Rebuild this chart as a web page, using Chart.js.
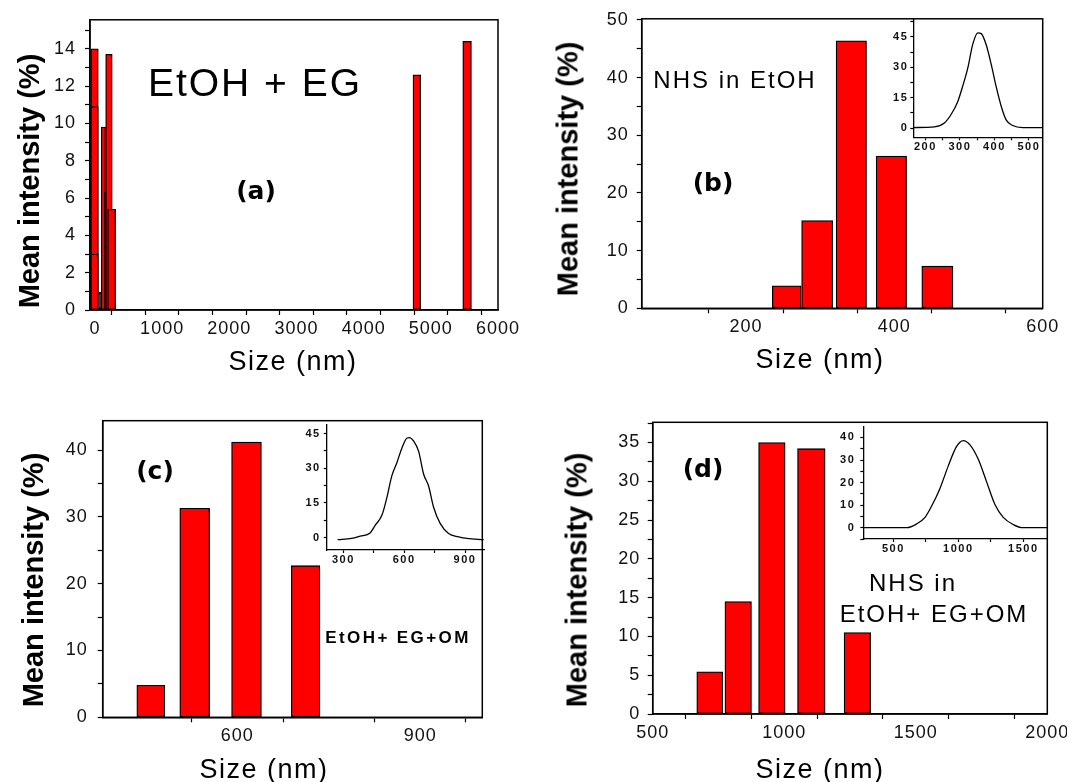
<!DOCTYPE html>
<html>
<head>
<meta charset="utf-8">
<script src="https://cdn.jsdelivr.net/npm/chart.js@4.4.0/dist/chart.umd.min.js"></script>
<style>
  html, body { margin: 0; padding: 0; overflow: hidden; background: #fff; }
  #fig { position: relative; width: 1067px; height: 782px; overflow: hidden; }
  canvas { position: absolute; }
  .t { position: absolute; white-space: nowrap; line-height: 1; transform: translate(-50%, -50%);
       font-family: 'Liberation Sans', Arial, sans-serif; color: #000; }
  .yt { font-weight: bold; font-size: 29px; transform: translate(-50%, -50%) rotate(-90deg); }
  .xt { font-size: 27px; letter-spacing: 1.5px; }
  .pl { font-family: 'DejaVu Sans', sans-serif; font-weight: bold; font-size: 25px; }
  .note { font-size: 24px; letter-spacing: 2px; }
</style>
</head>
<body>
<div id="fig">
  <canvas id="chartA" width="530" height="390" style="left:0;top:0"></canvas>
  <canvas id="chartB" width="537" height="390" style="left:530px;top:0"></canvas>
  <canvas id="chartC" width="530" height="392" style="left:0;top:390px"></canvas>
  <canvas id="chartD" width="560" height="392" style="left:530px;top:390px"></canvas>
  <canvas id="insetB" width="185" height="150" style="left:863px;top:10px"></canvas>
  <canvas id="insetC" width="210" height="155" style="left:280px;top:415px"></canvas>
  <canvas id="insetD" width="240" height="145" style="left:815px;top:415px"></canvas>

  <!-- titres d'axes -->
  <div class="t yt" style="left:29px;top:181px">Mean intensity (%)</div>
  <div class="t yt" style="left:568px;top:169px">Mean intensity (%)</div>
  <div class="t yt" style="left:33px;top:580px">Mean intensity (%)</div>
  <div class="t yt" style="left:577px;top:580px">Mean intensity (%)</div>
  <div class="t xt" style="left:293px;top:361px">Size (nm)</div>
  <div class="t xt" style="left:820px;top:359px">Size (nm)</div>
  <div class="t xt" style="left:264px;top:769px">Size (nm)</div>
  <div class="t xt" style="left:820px;top:769px">Size (nm)</div>

  <!-- annotations -->
  <div class="t" style="left:255px;top:82px;font-size:39px;letter-spacing:2px">EtOH + EG</div>
  <div class="t pl" style="left:256px;top:190px">(a)</div>
  <div class="t note" style="left:735px;top:80px">NHS in EtOH</div>
  <div class="t pl" style="left:713px;top:182px">(b)</div>
  <div class="t pl" style="left:155px;top:470px">(c)</div>
  <div class="t" style="left:398px;top:637px;font-size:17px;font-weight:bold;letter-spacing:2.4px">EtOH+ EG+OM</div>
  <div class="t pl" style="left:703px;top:468px">(d)</div>
  <div class="t note" style="left:913px;top:583px">NHS in</div>
  <div class="t note" style="left:934px;top:614px">EtOH+ EG+OM</div>
</div>

<script>
// (a) EtOH + EG : barres larges (rouges) et barres fines (noires)
const sizesA = [-7, -7, -7, 126, 208, 248, 4792, 5540];
const intensA = [14.0, 10.9, 3.0, 9.8, 13.7, 5.4, 12.6, 14.4];
const binsA = [113, 113, 113, 65, 98, 119, 115, 129];
const sizesAThin = [74, 149];
const intensAThin = [0.96, 6.3];
const binsAThin = [30, 21];
const xLabelsA = [0, 1000, 2000, 3000, 4000, 5000, 6000];
const yLabelsA = [0, 2, 4, 6, 8, 10, 12, 14];

// (b) NHS in EtOH
const sizesB = [255, 296, 342, 396, 458];
const intensB = [3.9, 15.2, 46.4, 26.4, 7.3];
const binsB = [39, 42, 41, 41, 42];
const xLabelsB = [200, 400, 600];
const yLabelsB = [0, 10, 20, 30, 40, 50];
const curveSizesB = [165, 226, 255, 274, 294, 308, 323, 337, 352, 362, 376, 391, 405, 420, 434, 453, 482, 539];
const curveIntensB = [0.3, 0.6, 2.5, 6.6, 13.2, 20.6, 29.7, 41.2, 47.0, 46.6, 41.2, 31.3, 20.6, 10.7, 4.1, 1.3, 0.3, 0.3];
const insetXLabelsB = [200, 300, 400, 500];
const insetYLabelsB = [0, 15, 30, 45];

// (c) EtOH + EG + OM
const sizesC = [458, 530, 615, 712];
const intensC = [4.8, 31.3, 41.2, 22.7];
const binsC = [46, 49, 49, 47];
const xLabelsC = [600, 900];
const yLabelsC = [0, 10, 20, 30, 40];
const curveSizesC = [272, 341, 383, 432, 457, 490, 515, 539, 564, 589, 614, 625, 647, 671, 696, 720, 745, 778, 819, 869, 910, 992];
const curveIntensC = [-0.9, -0.4, 0.6, 2.0, 5.3, 9.6, 17.4, 26.7, 32.4, 38.8, 43.1, 43.3, 41.7, 37.4, 27.4, 22.4, 13.1, 6.0, 1.7, 0.3, -0.4, -0.9];
const insetXLabelsC = [300, 600, 900];
const insetYLabelsC = [0, 15, 30, 45];

// (d) NHS in EtOH + EG + OM
const sizesD = [717, 825, 953, 1103, 1278];
const intensD = [5.45, 14.5, 35.0, 34.2, 10.5];
const binsD = [99, 101, 101, 105, 101];
const xLabelsD = [500, 1000, 1500, 2000];
const yLabelsD = [0, 5, 10, 15, 20, 25, 30, 35];
const curveSizesD = [270, 603, 680, 744, 795, 859, 923, 987, 1038, 1090, 1154, 1218, 1282, 1346, 1423, 1500, 1685];
const curveIntensD = [0, 0, 1.7, 4.6, 9.6, 17.4, 27.4, 36.0, 38.6, 36.7, 30.3, 20.3, 10.3, 4.6, 1.4, 0, 0];
const insetXLabelsD = [500, 1000, 1500];
const insetYLabelsD = [0, 10, 20, 30, 40];

const FONT = "'Liberation Sans', Arial, sans-serif";
const mainFont = {family: FONT, size: 18};
const insetFont = {family: FONT, size: 11, weight: 'bold'};

// cadre + espacement des lettres des graduations
const framePlugin = {
  id: 'frame',
  beforeDraw(chart, args, opts) {
    chart.ctx.letterSpacing = opts.spacing || '0px';
  },
  afterDraw(chart, args, opts) {
    if (!opts.box) return;
    const {ctx, chartArea: a} = chart;
    ctx.save();
    ctx.strokeStyle = '#000';
    ctx.lineWidth = 1.5;
    ctx.strokeRect(a.left, a.top, a.right - a.left, a.bottom - a.top);
    ctx.restore();
  }
};

// graduations mineures tous les `step`, étiquettes seulement sur `labels`
function stepTicks(min, max, step) {
  const out = [];
  for (let k = Math.ceil(min / step - 1e-9); k * step <= max + 1e-9; k++) out.push(+(k * step).toFixed(6));
  return out;
}

function axis(o) {
  const values = stepTicks(o.min, o.max, o.step);
  return {
    type: 'linear', min: o.min, max: o.max, offset: false,
    grid: {drawOnChartArea: false, tickLength: o.tick, tickColor: '#000', tickWidth: 1.2},
    border: {color: '#000', width: o.line},
    ticks: {
      autoSkip: false, maxRotation: 0,
      padding: o.pad, color: '#111', font: o.font,
      callback: v => o.labels.some(l => Math.abs(l - v) < 1e-6) ? String(v) : ''
    },
    afterBuildTicks: s => { s.ticks = values.map(v => ({value: v})); },
    afterFit: s => { if (o.isX) s.height = o.size; else s.width = o.size; }
  };
}

function bins(sizes, values, widths, fill, order0) {
  return sizes.map((s, i) => ({
    data: [{x: s, y: values[i]}],
    binWidth: widths[i],
    backgroundColor: fill, borderColor: '#000', borderWidth: 1.3, borderSkipped: false,
    grouped: false, barThickness: 1, order: order0 - i
  }));
}

// largeur des barres en pixels, à partir de la largeur de classe en nm
function fitBars(chart) {
  const x = chart.scales.x;
  chart.data.datasets.forEach(ds => {
    const c = ds.data[0].x;
    ds.barThickness = Math.max(1, Math.abs(x.getPixelForValue(c + ds.binWidth / 2) - x.getPixelForValue(c - ds.binWidth / 2)));
  });
  chart.update('none');
}

function mainChart(id, datasets, x, y, padding) {
  const chart = new Chart(document.getElementById(id), {
    type: 'bar',
    data: {datasets},
    options: {
      responsive: false, animation: false, devicePixelRatio: 1,
      layout: {padding},
      scales: {x: axis(Object.assign({isX: true, tick: 5, line: 1.5, font: mainFont}, x)),
               y: axis(Object.assign({tick: 5, line: 1.5, font: mainFont}, y))},
      plugins: {legend: {display: false}, tooltip: {enabled: false}, frame: {box: true, spacing: '1px'}}
    },
    plugins: [framePlugin]
  });
  fitBars(chart);
}

function insetChart(id, xs, ys, x, y, padding) {
  new Chart(document.getElementById(id), {
    type: 'line',
    data: {datasets: [{
      data: xs.map((v, i) => ({x: v, y: ys[i]})),
      borderColor: '#000', borderWidth: 1.3, pointRadius: 0, fill: false,
      cubicInterpolationMode: 'monotone'
    }]},
    options: {
      responsive: false, animation: false, devicePixelRatio: 1,
      layout: {padding},
      scales: {x: axis(Object.assign({isX: true, tick: 3, line: 1.3, font: insetFont}, x)),
               y: axis(Object.assign({tick: 3, line: 1.3, font: insetFont}, y))},
      plugins: {legend: {display: false}, tooltip: {enabled: false}, frame: {box: false, spacing: '1.5px'}}
    },
    plugins: [framePlugin]
  });
}

mainChart('chartA',
  bins(sizesA, intensA, binsA, '#ff0000', 0).concat(bins(sizesAThin, intensAThin, binsAThin, '#000', -50)),
  {min: -74, max: 6000, step: 500, labels: xLabelsA, size: 80, pad: 3},
  {min: 0, max: 15.55, step: 1, labels: yLabelsA, size: 90, pad: 9},
  {left: 0, top: 13, right: 32, bottom: 0});

mainChart('chartB', bins(sizesB, intensB, binsB, '#ff0000', 0),
  {min: 59.4, max: 600, step: 100, labels: xLabelsB, size: 81.7, pad: 3},
  {min: 0, max: 50.2, step: 5, labels: yLabelsB, size: 111.7, pad: 8},
  {left: 0, top: 17.3, right: 24.3, bottom: 0});

mainChart('chartC', bins(sizesC, intensC, binsC, '#ff0000', 0),
  {min: 379, max: 1002, step: 150, labels: xLabelsC, size: 64.7, pad: 3},
  {min: 0, max: 44.4, step: 5, labels: yLabelsC, size: 102.7, pad: 10},
  {left: 0, top: 30.7, right: 47.7, bottom: 0});

mainChart('chartD', bins(sizesD, intensD, binsD, '#ff0000', 0),
  {min: 500, max: 2000, step: 250, labels: xLabelsD, size: 68, pad: 3},
  {min: 0, max: 37.6, step: 2.5, labels: yLabelsD, size: 122.7, pad: 7.5},
  {left: 0, top: 32.3, right: 42.7, bottom: 0});

insetChart('insetB', curveSizesB, curveIntensB,
  {min: 165, max: 540, step: 50, labels: insetXLabelsB, size: 22.7, pad: 0},
  {min: -4.5, max: 54, step: 7.5, labels: insetYLabelsB, size: 50.3, pad: 2},
  {left: 0, top: 8.3, right: 5.3, bottom: 0});

insetChart('insetC', curveSizesC, curveIntensC,
  {min: 218, max: 995, step: 150, labels: insetXLabelsC, size: 20, pad: 0},
  {min: -5.4, max: 48.9, step: 7.5, labels: insetYLabelsC, size: 46.7, pad: 3},
  {left: 0, top: 8.3, right: 5.7, bottom: 0});

insetChart('insetD', curveSizesD, curveIntensD,
  {min: 269, max: 1685, step: 250, labels: insetXLabelsD, size: 21, pad: 0},
  {min: -5, max: 44.8, step: 5, labels: insetYLabelsD, size: 48.3, pad: 5},
  {left: 0, top: 7.7, right: 7.7, bottom: 0});
</script>
</body>
</html>
